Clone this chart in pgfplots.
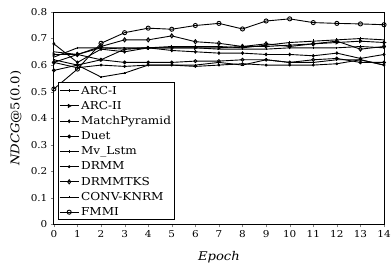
\documentclass[border=0pt]{standalone}
\usepackage{fontspec}
\setmainfont{DejaVu Serif}[FakeStretch=1.1]
\usepackage{pgfplots}
\pgfplotsset{compat=1.18}
\begin{document}
\begin{tikzpicture}
\begin{axis}[
  name=ax,
  scale only axis,
  width=331pt, height=213pt,
  xmin=0, xmax=14, ymin=0, ymax=0.8,
  xtick={0,1,...,14},
  ytick={0,0.1,...,0.8},
  /pgf/number format/assume math mode=true,
  yticklabel style={/pgf/number format/fixed, /pgf/number format/precision=1},
  tick label style={font=\fontsize{9.5}{11}\selectfont},
  tick align=outside,
  xtick pos=left, ytick pos=left,
  major tick length=3pt,
  axis line style={line width=0.9pt},
  xlabel={\textit{Epoch}},
  ylabel={\textit{NDCG}@5(0.0)},
  label style={font=\fontsize{12}{13}\selectfont},
  xlabel style={at={(axis description cs:0.5,-0.155)}, anchor=center},
  ylabel style={at={(axis description cs:-0.115,0.5)}, anchor=center},
  every axis plot/.append style={black, line width=0.9pt, mark size=1.6pt},
  legend image code/.code={\draw[mark repeat=2,mark phase=2] plot coordinates {(0pt,0pt)(9.5pt,0pt)(19pt,0pt)};},
  legend style={at={(0.012,0.019)}, anchor=south west, draw=black, line width=0.9pt,
    inner sep=1pt, row sep=1.6pt, font=\fontsize{11}{12}\selectfont},
  legend cell align=left,
]
% ARC-I
\addplot[mark=x, mark options={rotate=45, scale=0.8}] coordinates {(0,0.62)(1,0.60)(2,0.555)(3,0.57)(4,0.60)(5,0.60)(6,0.60)(7,0.61)(8,0.60)(9,0.62)(10,0.61)(11,0.61)(12,0.62)(13,0.62)(14,0.60)};
\addlegendentry{ARC-I}
% ARC-II
\addplot[mark=triangle, mark options={rotate=-90, fill=white}] coordinates {(0,0.64)(1,0.64)(2,0.62)(3,0.66)(4,0.665)(5,0.665)(6,0.665)(7,0.665)(8,0.67)(9,0.67)(10,0.675)(11,0.68)(12,0.685)(13,0.69)(14,0.685)};
\addlegendentry{ARC-II}
% MatchPyramid
\addplot[mark=diamond*, mark options={scale=0.8}] coordinates {(0,0.68)(1,0.61)(2,0.66)(3,0.65)(4,0.665)(5,0.655)(6,0.65)(7,0.645)(8,0.645)(9,0.64)(10,0.64)(11,0.635)(12,0.645)(13,0.625)(14,0.64)};
\addlegendentry{MatchPyramid}
% Duet
\addplot[mark=o, mark options={fill=white, scale=0.9}] coordinates {(0,0.58)(1,0.60)(2,0.62)(3,0.61)(4,0.61)(5,0.61)(6,0.615)(7,0.615)(8,0.62)(9,0.62)(10,0.61)(11,0.62)(12,0.625)(13,0.61)(14,0.61)};
\addlegendentry{Duet}
% Mv_Lstm
\addplot[mark=|, mark options={scale=1.1}] coordinates {(0,0.65)(1,0.64)(2,0.665)(3,0.66)(4,0.665)(5,0.67)(6,0.67)(7,0.67)(8,0.665)(9,0.675)(10,0.685)(11,0.69)(12,0.695)(13,0.70)(14,0.695)};
\addlegendentry{Mv\_Lstm}
% DRMM
\addplot[mark=*, mark options={scale=0.6}] coordinates {(0,0.61)(1,0.59)(2,0.60)(3,0.595)(4,0.60)(5,0.60)(6,0.595)(7,0.60)(8,0.605)(9,0.60)(10,0.60)(11,0.60)(12,0.605)(13,0.62)(14,0.60)};
\addlegendentry{DRMM}
% DRMMTKS
\addplot[mark=diamond, mark options={fill=white, scale=1.3}] coordinates {(0,0.61)(1,0.64)(2,0.67)(3,0.695)(4,0.695)(5,0.71)(6,0.688)(7,0.682)(8,0.67)(9,0.68)(10,0.67)(11,0.68)(12,0.69)(13,0.66)(14,0.67)};
\addlegendentry{DRMMTKS}
% CONV-KNRM
\addplot[mark=|, mark options={scale=0.8}] coordinates {(0,0.63)(1,0.665)(2,0.665)(3,0.665)(4,0.665)(5,0.665)(6,0.665)(7,0.66)(8,0.66)(9,0.66)(10,0.665)(11,0.665)(12,0.665)(13,0.67)(14,0.665)};
\addlegendentry{CONV-KNRM}
% FMMI
\addplot[mark=o, mark options={fill=white, scale=1.3}] coordinates {(0,0.51)(1,0.585)(2,0.682)(3,0.722)(4,0.739)(5,0.735)(6,0.749)(7,0.757)(8,0.736)(9,0.766)(10,0.774)(11,0.76)(12,0.757)(13,0.755)(14,0.752)};
\addlegendentry{FMMI}
\end{axis}
\pgfresetboundingbox
\useasboundingbox ([shift={(-54pt,-45pt)}]ax.south west) rectangle ([shift={(7pt,12pt)}]ax.north east);
\end{tikzpicture}
\end{document}
